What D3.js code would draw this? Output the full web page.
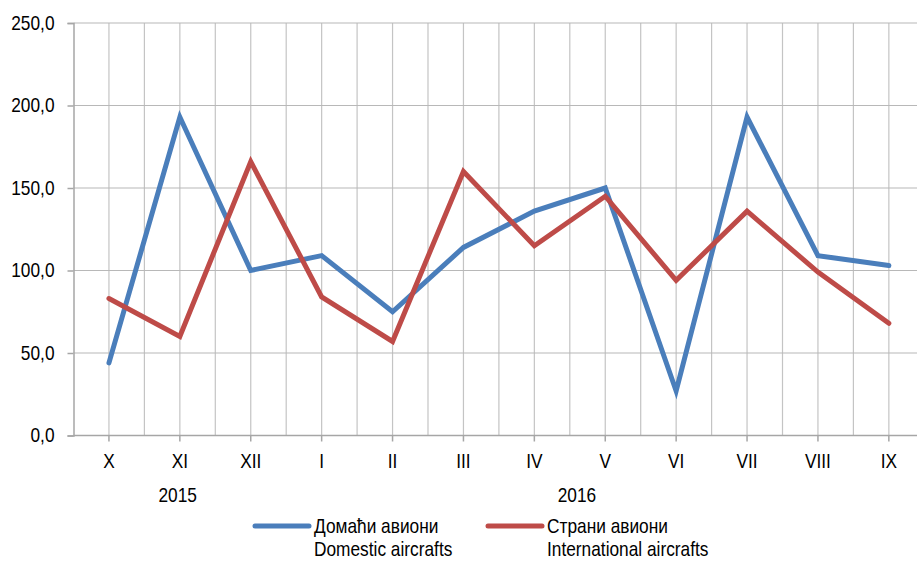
<!DOCTYPE html>
<html><head><meta charset="utf-8">
<script src="https://cdn.jsdelivr.net/npm/d3@7"></script>
<style>
body{margin:0;background:#fff}
text{font-family:"Liberation Sans",Arial,sans-serif;fill:#000;transform-box:fill-box;transform:scaleX(0.865)}
text.a-end{transform-origin:right center}
text.a-mid{transform-origin:center center}
text.a-start{transform-origin:left center}
</style>
</head><body><svg id="c" width="917" height="561"></svg>
<script>
const months = ["X","XI","XII","I","II","III","IV","V","VI","VII","VIII","IX"];
const domestic = [44,193,100,109,75,114,136,150,27,193,109,103];
const international = [83,60,166,84,57,160,115,145,94,136,99,68];
const yTicks = [0,50,100,150,200,250];
const yearLabels = [{label:"2015", at:"XI"},{label:"2016", at:"V"}];
const seriesNames = [["Домаћи авиони","Domestic aircrafts"],["Страни авиони","International aircrafts"]];
const colors = ["#4a7ebb","#be4b48"];

(function(){
const FS = 20;
const svg = d3.select("#c");
const pLeft = 73.5, bandW = 70.9, pTop = 23, pBottom = 435.5;
const x = d3.scaleBand().domain(months).range([pLeft, pLeft + bandW*months.length]);
const y = d3.scaleLinear().domain([0,250]).range([pBottom, pTop]);
const cx = d => x(d) + x.bandwidth()/2;

const g = svg.append("g");
for (let i = 1; i < months.length*2; i++) {
  const xv = pLeft + i*bandW/2;
  g.append("line").attr("x1", xv).attr("x2", xv).attr("y1", pTop).attr("y2", pBottom)
    .attr("stroke", "#c4c4c4").attr("stroke-width", 1.2);
}
yTicks.forEach(t => {
  if (t === 0) return;
  g.append("line").attr("x1", pLeft).attr("x2", 917).attr("y1", y(t)).attr("y2", y(t))
    .attr("stroke", "#b8b8b8").attr("stroke-width", 1.2);
});

const ya = svg.append("g").attr("transform", `translate(${pLeft},0)`)
  .call(d3.axisLeft(y).tickValues(yTicks).tickSize(6).tickPadding(13)
    .tickFormat(d => d3.format(".1f")(d).replace(".", ",")));
ya.select(".domain").attr("stroke", "#a6a6a6").attr("stroke-width", 1.5);
ya.selectAll(".tick line").attr("stroke", "#a6a6a6").attr("stroke-width", 1.5);
ya.selectAll("text").attr("class", "a-end").attr("font-size", FS).attr("font-family", "Liberation Sans, Arial, sans-serif");

const xa = svg.append("g").attr("transform", `translate(0,${pBottom})`)
  .call(d3.axisBottom(x).tickSize(6).tickPadding(12).tickSizeOuter(0));
xa.select(".domain").attr("stroke", "#a6a6a6").attr("stroke-width", 1.5).attr("d", `M${pLeft},0H917`);
xa.selectAll(".tick line").attr("stroke", "#a6a6a6").attr("stroke-width", 1.5);
xa.selectAll("text").attr("class", "a-mid").attr("font-size", FS).attr("font-family", "Liberation Sans, Arial, sans-serif");

svg.selectAll(".yr").data(yearLabels).enter().append("text").attr("class", "a-mid")
  .attr("x", d => cx(d.at) - (d.label === "2016" ? 0.4*bandW : 0.03*bandW)).attr("y", 502)
  .attr("text-anchor", "middle").attr("font-size", FS).text(d => d.label);

const line = d3.line().x((d,i) => cx(months[i])).y(d => y(d));
[domestic, international].forEach((s, k) => {
  svg.append("path").attr("d", line(s)).attr("fill", "none")
    .attr("stroke", colors[k]).attr("stroke-width", 5)
    .attr("stroke-linecap", "round").attr("stroke-linejoin", "miter");
});

const legX = [255, 488];
seriesNames.forEach((n, k) => {
  svg.append("line").attr("x1", legX[k]).attr("x2", legX[k] + 54).attr("y1", 526).attr("y2", 526)
    .attr("stroke", colors[k]).attr("stroke-width", 5).attr("stroke-linecap", "round");
  svg.append("text").attr("class", "a-start").attr("x", legX[k] + 59).attr("y", 533).attr("font-size", FS).text(n[0]);
  svg.append("text").attr("class", "a-start").attr("x", legX[k] + 59).attr("y", 556.5).attr("font-size", FS).text(n[1]);
});
})();
</script></body></html>
